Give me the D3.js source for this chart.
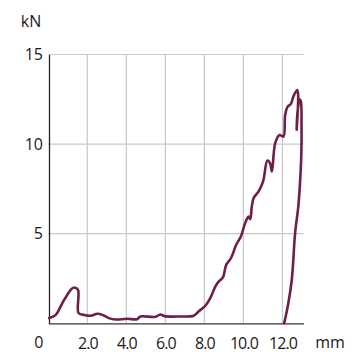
<!DOCTYPE html>
<html>
<head>
<meta charset="utf-8">
<script src="https://cdn.jsdelivr.net/npm/d3@7"></script>
<style>
  body { margin: 0; background: #fff; }
  svg { display: block; }
</style>
</head>
<body>
<div id="chart"></div>
<script>
// Force-displacement curve
const dispMm = [0.05, 0.38, 0.72, 1.15, 1.31, 1.52, 1.55, 1.83, 2.17, 2.51, 2.77, 3.1, 3.45, 4.04, 4.55, 4.72, 5.49, 5.75, 5.95, 6.77,
  7.45, 7.7, 8.05, 8.3, 8.56, 8.73, 8.95, 9.12, 9.36, 9.63, 9.87, 10.09, 10.26, 10.35, 10.43, 10.52, 10.77, 10.94, 11.03,
  11.23, 11.37, 11.46, 11.63, 11.85, 12.05, 12.14, 12.27, 12.43, 12.56, 12.75, 12.8, 12.73, 12.76, 12.88, 12.94,
  12.98, 12.97, 12.92, 12.82, 12.65, 12.48, 12.3, 12.09];
const forceKn = [0.29, 0.47, 1.13, 1.87, 2.0, 1.87, 0.57, 0.47, 0.42, 0.53, 0.47, 0.29, 0.21, 0.25, 0.23, 0.38, 0.36, 0.49, 0.4, 0.38,
  0.42, 0.66, 0.98, 1.4, 2.05, 2.33, 2.56, 3.26, 3.63, 4.38, 4.84, 5.59, 5.96, 5.81, 6.51, 6.98, 7.35, 7.72, 8.0,
  9.08, 8.93, 8.47, 10.05, 10.51, 10.42, 11.63, 12.09, 12.24, 12.65, 13.02, 12.85, 10.8, 11.6, 12.5, 12.4,
  11.0, 9.5, 8.2, 6.6, 5.03, 2.43, 1.1, 0.0];
const xTicks = [2, 4, 6, 8, 10, 12];
const xTickLabels = ['2.0', '4.0', '6.0', '8.0', '10.0', '12.0'];
const yTicks = [5, 10, 15];

const width = 360, height = 358;
const color = '#6e1f47';

const x = d3.scaleLinear().domain([0, 13.08]).range([48.3, 303.5]);
const y = d3.scaleLinear().domain([0, 15]).range([323.3, 54.5]);

const svg = d3.select('#chart').append('svg')
  .attr('width', width)
  .attr('height', height)
  .attr('font-family', '"Open Sans", sans-serif')
  .attr('fill', '#1a1a1a');

// Grid
const grid = svg.append('g')
  .attr('stroke', '#c8c8c8')
  .attr('stroke-width', 1.2);

grid.selectAll('.vgrid')
  .data(xTicks)
  .join('line')
  .attr('class', 'vgrid')
  .attr('x1', d => x(d)).attr('x2', d => x(d))
  .attr('y1', y(15)).attr('y2', y(0));

grid.selectAll('.hgrid')
  .data(yTicks)
  .join('line')
  .attr('class', 'hgrid')
  .attr('x1', x(0)).attr('x2', x.range()[1])
  .attr('y1', d => y(d)).attr('y2', d => y(d));

// Axes
const yAxis = g => g
  .attr('transform', `translate(${x(0) + 0.7},0)`)
  .call(d3.axisLeft(y).tickValues(yTicks).tickSize(0).tickPadding(6))
  .call(g => g.select('.domain').attr('stroke', '#222').attr('stroke-width', 1.3))
  .call(g => g.selectAll('text')
    .attr('font-size', 16)
    .attr('fill', '#1a1a1a')
    .attr('font-family', '"Open Sans", sans-serif'));

const xAxis = g => g
  .attr('transform', `translate(0,${y(0)})`)
  .call(d3.axisBottom(x).tickValues(xTicks).tickFormat((d, i) => xTickLabels[i]).tickSize(0).tickPadding(14))
  .call(g => g.select('.domain').attr('stroke', '#333').attr('stroke-width', 1.3))
  .call(g => g.selectAll('text')
    .attr('font-size', 16)
    .attr('letter-spacing', -0.9)
    .attr('fill', '#1a1a1a')
    .attr('font-family', '"Open Sans", sans-serif'));

svg.append('g').call(xAxis);
svg.append('g').call(yAxis);

// Origin label and units
svg.append('text')
  .attr('x', 43.5).attr('y', 348)
  .attr('text-anchor', 'end')
  .attr('font-size', 16)
  .text('0');

svg.append('text')
  .attr('x', 330).attr('y', 348)
  .attr('text-anchor', 'middle')
  .attr('font-size', 16)
  .text('mm');

svg.append('text')
  .attr('x', 31).attr('y', 27)
  .attr('text-anchor', 'middle')
  .attr('font-size', 16)
  .text('kN');

// Curve
const points = dispMm.map((d, i) => [d, forceKn[i]]);
const line = d3.line()
  .x(d => x(d[0]))
  .y(d => y(d[1]))
  .curve(d3.curveCatmullRom.alpha(0.5));

svg.append('path')
  .datum(points)
  .attr('fill', 'none')
  .attr('stroke', color)
  .attr('stroke-width', 2.6)
  .attr('stroke-linejoin', 'round')
  .attr('stroke-linecap', 'round')
  .attr('d', line);
</script>
</body>
</html>
